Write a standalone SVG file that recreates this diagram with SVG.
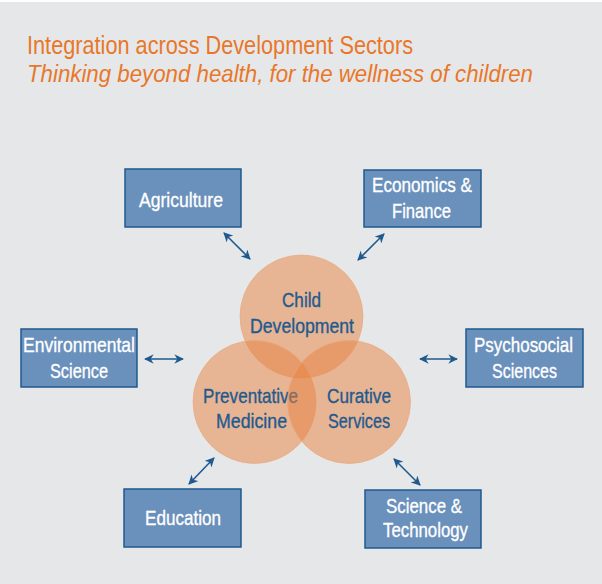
<svg xmlns="http://www.w3.org/2000/svg" width="602" height="584" viewBox="0 0 602 584">
<defs>
<style>
.bg{fill:#e6e7e8}
.title{font-family:"Liberation Sans",Arial,sans-serif;fill:#e8772a;font-size:25px}
.sub{font-style:italic;font-size:24px}
.box{fill:#6a90bc;stroke:#20598f;stroke-width:1.5}
.bt{font-family:"Liberation Sans",Arial,sans-serif;fill:#ffffff;stroke:#ffffff;stroke-width:0.35;font-size:21px;text-anchor:middle}
.circ{fill:#e8823f;fill-opacity:0.5;stroke:#eba77a;stroke-width:1;stroke-opacity:0.6}
.ct{font-family:"Liberation Sans",Arial,sans-serif;fill:#1f5a8e;stroke:#1f5a8e;stroke-width:0.35;font-size:21px;text-anchor:middle}
.conn{stroke:#1f5a8f;stroke-width:1.6;fill:none;marker-start:url(#ah);marker-end:url(#ah)}
</style>
<marker id="ah" viewBox="0 0 10 10" refX="9" refY="5" markerWidth="6" markerHeight="6" orient="auto-start-reverse" markerUnits="strokeWidth">
<path d="M0,0 L10,5 L0,10 L3,5 Z" fill="#1f5a8f"/>
</marker>
</defs>
<rect x="0" y="0" width="602" height="584" fill="#ffffff"/>
<rect class="bg" x="0" y="2" width="602" height="582"/>
<g id="title">
<text class="title" x="27" y="54" textLength="386" lengthAdjust="spacingAndGlyphs">Integration across Development Sectors</text>
<text class="title sub" x="27" y="82" textLength="506" lengthAdjust="spacingAndGlyphs">Thinking beyond health, for the wellness of children</text>
</g>
<g id="circles">
<g id="child-development">
<circle class="circ" cx="301.5" cy="316.5" r="61.5"/>
<text class="ct" x="301.5" y="307" textLength="39" lengthAdjust="spacingAndGlyphs">Child</text>
<text class="ct" x="302" y="333" textLength="104" lengthAdjust="spacingAndGlyphs">Development</text>
</g>
<g id="preventative-medicine">
<circle class="circ" cx="254.5" cy="402" r="61.5"/>
<text class="ct" x="250.5" y="403" textLength="95" lengthAdjust="spacingAndGlyphs">Preventative</text>
<text class="ct" x="251.5" y="428" textLength="71" lengthAdjust="spacingAndGlyphs">Medicine</text>
</g>
<g id="curative-services">
<circle class="circ" cx="349" cy="402" r="61.5"/>
<text class="ct" x="359" y="403" textLength="64" lengthAdjust="spacingAndGlyphs">Curative</text>
<text class="ct" x="359" y="428" textLength="62" lengthAdjust="spacingAndGlyphs">Services</text>
</g>
</g>
<g id="connectors">
<line class="conn" x1="224" y1="233" x2="250" y2="259"/>
<line class="conn" x1="384" y1="234" x2="358" y2="260"/>
<line class="conn" x1="145" y1="359" x2="183" y2="359"/>
<line class="conn" x1="420" y1="359" x2="457" y2="359"/>
<line class="conn" x1="189" y1="484" x2="214" y2="458"/>
<line class="conn" x1="394" y1="459" x2="420" y2="485"/>
</g>
<g id="agriculture">
<rect class="box" x="125" y="169" width="116" height="58"/>
<text class="bt" x="181" y="207" textLength="84" lengthAdjust="spacingAndGlyphs">Agriculture</text>
</g>
<g id="economics-finance">
<rect class="box" x="364" y="170" width="117" height="57"/>
<text class="bt" x="422" y="192" textLength="100" lengthAdjust="spacingAndGlyphs">Economics &amp;</text>
<text class="bt" x="421.5" y="218" textLength="59" lengthAdjust="spacingAndGlyphs">Finance</text>
</g>
<g id="environmental-science">
<rect class="box" x="21" y="329" width="116" height="58"/>
<text class="bt" x="79" y="352" textLength="112" lengthAdjust="spacingAndGlyphs">Environmental</text>
<text class="bt" x="79" y="378" textLength="58" lengthAdjust="spacingAndGlyphs">Science</text>
</g>
<g id="psychosocial-sciences">
<rect class="box" x="466" y="329" width="117" height="58"/>
<text class="bt" x="523.5" y="352" textLength="99" lengthAdjust="spacingAndGlyphs">Psychosocial</text>
<text class="bt" x="524.5" y="378" textLength="65" lengthAdjust="spacingAndGlyphs">Sciences</text>
</g>
<g id="education">
<rect class="box" x="124" y="489" width="117" height="58"/>
<text class="bt" x="183" y="525" textLength="76" lengthAdjust="spacingAndGlyphs">Education</text>
</g>
<g id="science-technology">
<rect class="box" x="365" y="490" width="116" height="58"/>
<text class="bt" x="424" y="513" textLength="76" lengthAdjust="spacingAndGlyphs">Science &amp;</text>
<text class="bt" x="425.5" y="537" textLength="85" lengthAdjust="spacingAndGlyphs">Technology</text>
</g>
</svg>
